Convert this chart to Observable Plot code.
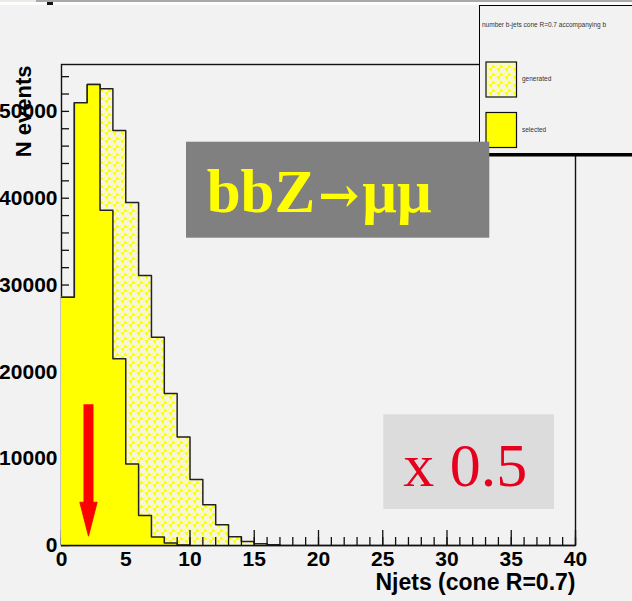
<!DOCTYPE html>
<html>
<head>
<meta charset="utf-8">
<script src="https://cdn.jsdelivr.net/npm/d3@7"></script>
<script src="https://cdn.jsdelivr.net/npm/@observablehq/plot@0.6"></script>
<style>
  html, body { margin: 0; padding: 0; background: #f2f2f2; overflow: hidden; }
  #wrap { position: relative; width: 632px; height: 601px; background: #f2f2f2; }
  #wrap > * { position: absolute; left: 0; top: 0; }
  .strip { position: absolute; }
</style>
</head>
<body>
<div id="wrap">
  <div class="strip" style="left:0;top:0;width:632px;height:5px;background:#fdfdfd"></div>
  <div class="strip" style="left:0;top:0;width:36px;height:2px;background:#ecece6"></div>
  <div class="strip" style="left:36px;top:0;width:596px;height:2px;background:#a9a9a9"></div>
  <div class="strip" style="left:47px;top:2px;width:6px;height:3px;background:#111"></div>
</div>
<script>
// Number of b-jets per event (bins of width 1, starting at Njets = 0)
const generated = [28600, 51000, 53100, 52600, 47800, 39500, 31100, 24000, 17500, 12500, 7600, 4700, 2400, 1000, 460, 200, 80];
const selected  = [28600, 51000, 53100, 38600, 21500, 9400, 3450, 980, 290, 60];

const xTickLabels = [0, 5, 10, 15, 20, 25, 30, 35, 40];
const xMinorTicks = d3.range(0, 41);
const yTickLabels = [0, 10000, 20000, 30000, 40000, 50000];
const yMinorTicks = d3.range(0, 55000, 2000);

const seriesNames = ["generated", "selected"];
const legendTitle = "number b-jets cone R=0.7 accompanying b";
const xTitle = "Njets (cone R=0.7)";
const yTitle = "N events";
const processParts = ["bbZ", "\u2192", "\u03bc\u03bc"];
const scaleLabel = "x 0.5";

// red marker pointing at the Njets = 2 region
const arrowX = 2.1, arrowFrom = 16200, arrowTo = 1070;

const yellow = "#ffff00";
const red = "#ff0000";

// step outline points: value of bin i held from i to i+1
function stepPoints(values, closeToZero) {
  const pts = values.map((v, i) => ({x: i, y: v}));
  pts.push({x: values.length, y: values[values.length - 1]});
  if (closeToZero) pts.push({x: values.length, y: 0});
  return pts;
}
const genFill = stepPoints(generated, false);
const genLine = stepPoints(generated, true);
const selFill = stepPoints(selected, false);
const selLine = stepPoints(selected, true);

const arrowHead = {
  draw(ctx) {
    ctx.moveTo(-8.7, -34);
    ctx.lineTo(8.7, -34);
    ctx.lineTo(0, 0);
    ctx.closePath();
  }
};

const font = "'Liberation Sans', Arial, Helvetica, sans-serif";

const chart = Plot.plot({
  width: 632,
  height: 601,
  marginLeft: 61,
  marginRight: 57,
  marginTop: 64,
  marginBottom: 56,
  style: {background: "transparent", fontFamily: font, fontWeight: "bold", overflow: "visible"},
  x: {domain: [0, 40]},
  y: {domain: [0, 55400]},
  marks: [
    Plot.frame({stroke: "#111", strokeWidth: 1.4}),
    // generated: hatched histogram
    Plot.areaY(genFill, {x: "x", y: "y", curve: "step-after", fill: "url(#hatch)"}),
    Plot.line(genLine, {x: "x", y: "y", curve: "step-after", stroke: "#222", strokeWidth: 1.5}),
    // axis ticks
    Plot.ruleX(xMinorTicks, {x: d => d, y1: 0, y2: 0, insetBottom: 8, stroke: "#111", strokeWidth: 1.3}),
    Plot.ruleX(xTickLabels, {x: d => d, y1: 0, y2: 0, insetBottom: 15, stroke: "#111", strokeWidth: 1.3}),
    Plot.ruleY(yMinorTicks, {y: d => d, x1: 0, x2: 0, insetRight: -8, stroke: "#111", strokeWidth: 1.3}),
    // selected: solid histogram
    Plot.areaY(selFill, {x: "x", y: "y", curve: "step-after", fill: yellow}),
    Plot.line(selLine, {x: "x", y: "y", curve: "step-after", stroke: "#222", strokeWidth: 1.5}),
    Plot.ruleY([0], {stroke: "#111", strokeWidth: 1.4}),
    // tick labels
    Plot.axisX({ticks: xTickLabels, tickSize: 0, tickPadding: 6, tickFormat: d => String(d), label: null, fontSize: 21, fontWeight: "bold"}),
    Plot.axisY({ticks: yTickLabels, tickSize: 0, tickPadding: 4, tickFormat: d => String(d), label: null, fontSize: 21, fontWeight: "bold"}),
    // axis titles
    Plot.text([xTitle], {frameAnchor: "bottom-right", textAnchor: "end", lineAnchor: "bottom", dy: 44.5, fontSize: 23, fontWeight: "bold"}),
    Plot.text([yTitle], {frameAnchor: "top-left", rotate: -90, textAnchor: "end", lineAnchor: "bottom", dx: -31, dy: 1, fontSize: 22, fontWeight: "bold"}),
    // arrow
    Plot.ruleX([arrowX], {x: d => d, y1: arrowFrom, y2: arrowTo, insetBottom: 30, stroke: red, strokeWidth: 10}),
    Plot.dot([arrowX], {x: d => d, y: arrowTo, symbol: arrowHead, fill: red, stroke: "#e80000", strokeWidth: 0.8})
  ]
});

// woven hatch pattern for the generated histogram
function addHatch(svgSel, id) {
  const defs = svgSel.insert("defs", ":first-child");
  const p = defs.append("pattern")
    .attr("id", id)
    .attr("patternUnits", "userSpaceOnUse")
    .attr("width", 8).attr("height", 8);
  p.append("rect").attr("width", 8).attr("height", 8).attr("fill", yellow);
  p.append("path")
    .attr("d", "M0,4 L4,0 M4,8 L8,4 M1,1 L3,3 M5,5 L7,7 M6,0 L8,2 M0,6 L2,8")
    .attr("stroke", "#f6f6f0").attr("stroke-width", 1.9).attr("stroke-linecap", "square");
}
addHatch(d3.select(chart), "hatch");

const wrap = document.getElementById("wrap");
wrap.appendChild(chart);

// legend pad and annotation boxes
const over = d3.create("svg")
  .attr("width", 632).attr("height", 601)
  .style("position", "absolute").style("left", 0).style("top", 0)
  .style("font-family", font);
addHatch(over, "hatch2");

const leg = over.append("g");
leg.append("rect").attr("x", 479.5).attr("y", 5.5).attr("width", 200).attr("height", 148)
  .attr("fill", "#f2f2f2").attr("stroke", "#000").attr("stroke-width", 1);
leg.append("rect").attr("x", 479).attr("y", 153.5).attr("width", 160).attr("height", 3).attr("fill", "#000");
leg.append("text").attr("x", 482).attr("y", 27).attr("font-size", 6.5).attr("fill", "#333").text(legendTitle);
leg.append("rect").attr("x", 486).attr("y", 62).attr("width", 30.5).attr("height", 35)
  .attr("fill", "url(#hatch2)").attr("stroke", "#111").attr("stroke-width", 1.2);
leg.append("text").attr("x", 522).attr("y", 80.5).attr("font-size", 6.5).attr("fill", "#333").text(seriesNames[0]);
leg.append("rect").attr("x", 486).attr("y", 112.5).attr("width", 30.5).attr("height", 35)
  .attr("fill", yellow).attr("stroke", "#111").attr("stroke-width", 1.2);
leg.append("text").attr("x", 522).attr("y", 131.5).attr("font-size", 6.5).attr("fill", "#333").text(seriesNames[1]);

const serif = "'Liberation Serif', 'Times New Roman', serif";
over.append("rect").attr("x", 186).attr("y", 141.7).attr("width", 303.3).attr("height", 96).attr("fill", "#808080");
const proc = over.append("text").attr("x", 206.7).attr("y", 211.7)
  .attr("font-family", serif).attr("font-weight", "bold").attr("font-size", 61)
  .attr("fill", yellow);
proc.append("tspan").text(processParts[0]);
proc.append("tspan").attr("font-family", "'DejaVu Serif', serif").attr("font-size", 49).attr("dx", 3).text(processParts[1]);
proc.append("tspan").attr("dx", 3).text(processParts[2]);

over.append("rect").attr("x", 383.3).attr("y", 414.3).attr("width", 170.7).attr("height", 94.7).attr("fill", "#dcdcdc");
over.append("text").attr("x", 403.3).attr("y", 485.7)
  .attr("font-family", serif).attr("font-size", 62)
  .attr("fill", "#e6001e").text(scaleLabel);

wrap.appendChild(over.node());
</script>
</body>
</html>
